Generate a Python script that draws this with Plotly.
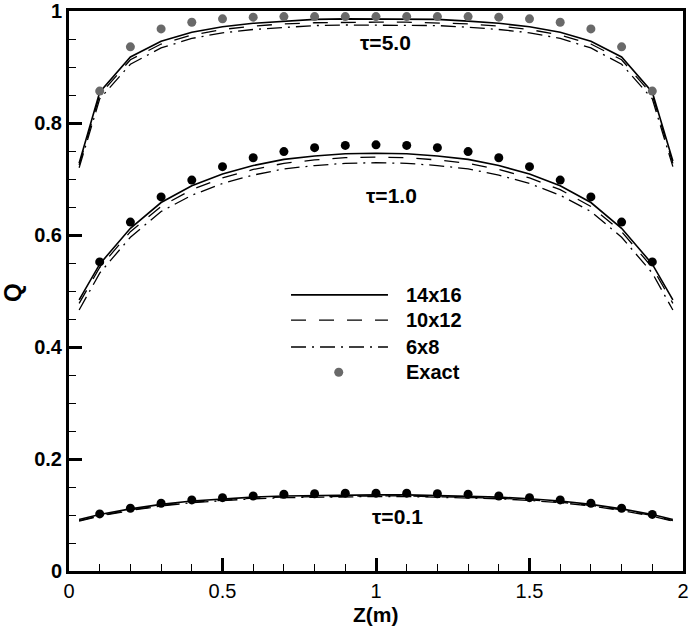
import plotly.graph_objects as go

# ---------------- data ----------------
z_line = [0.033, 0.1, 0.2, 0.3, 0.4, 0.5, 0.6, 0.7, 0.8, 0.9, 1.0,
          1.1, 1.2, 1.3, 1.4, 1.5, 1.6, 1.7, 1.8, 1.9, 1.967]

# tau = 5.0
t5_14x16 = [0.728, 0.855, 0.918, 0.946, 0.962, 0.972, 0.978, 0.982, 0.985, 0.986, 0.986,
            0.986, 0.985, 0.982, 0.978, 0.972, 0.962, 0.946, 0.918, 0.855, 0.732]
t5_10x12 = [0.725, 0.850, 0.913, 0.941, 0.957, 0.967, 0.973, 0.977, 0.979, 0.980, 0.980,
            0.980, 0.979, 0.977, 0.973, 0.967, 0.957, 0.941, 0.913, 0.850, 0.728]
t5_6x8 = [0.720, 0.843, 0.905, 0.934, 0.951, 0.961, 0.967, 0.971, 0.974, 0.975, 0.975,
          0.975, 0.974, 0.971, 0.967, 0.961, 0.951, 0.934, 0.905, 0.843, 0.722]

# tau = 1.0
t1_14x16 = [0.484, 0.548, 0.612, 0.658, 0.688, 0.709, 0.724, 0.735, 0.741, 0.745, 0.746,
            0.745, 0.741, 0.735, 0.724, 0.709, 0.688, 0.658, 0.612, 0.548, 0.484]
t1_10x12 = [0.478, 0.542, 0.606, 0.651, 0.681, 0.702, 0.717, 0.728, 0.734, 0.738, 0.739,
            0.738, 0.734, 0.728, 0.717, 0.702, 0.681, 0.651, 0.606, 0.542, 0.478]
t1_6x8 = [0.466, 0.532, 0.596, 0.642, 0.671, 0.692, 0.707, 0.718, 0.724, 0.728, 0.729,
          0.728, 0.724, 0.718, 0.707, 0.692, 0.671, 0.642, 0.596, 0.532, 0.466]

# tau = 0.1
t01_14x16 = [0.092, 0.101, 0.111, 0.119, 0.125, 0.129, 0.132, 0.134, 0.135, 0.136, 0.136,
             0.136, 0.135, 0.134, 0.132, 0.129, 0.125, 0.119, 0.111, 0.101, 0.092]
t01_10x12 = [0.090, 0.099, 0.109, 0.117, 0.123, 0.127, 0.130, 0.132, 0.133, 0.134, 0.134,
             0.134, 0.133, 0.132, 0.130, 0.127, 0.123, 0.117, 0.109, 0.099, 0.090]
t01_6x8 = [0.089, 0.098, 0.108, 0.116, 0.122, 0.126, 0.129, 0.131, 0.132, 0.133, 0.133,
           0.133, 0.132, 0.131, 0.129, 0.126, 0.122, 0.116, 0.108, 0.098, 0.089]

# exact solution
z_exact = [0.1, 0.2, 0.3, 0.4, 0.5, 0.6, 0.7, 0.8, 0.9, 1.0,
           1.1, 1.2, 1.3, 1.4, 1.5, 1.6, 1.7, 1.8, 1.9]
t5_exact = [0.857, 0.936, 0.968, 0.980, 0.986, 0.989, 0.990, 0.990, 0.990, 0.990,
            0.990, 0.990, 0.990, 0.989, 0.986, 0.980, 0.968, 0.936, 0.857]
t1_exact = [0.552, 0.623, 0.668, 0.698, 0.722, 0.738, 0.749, 0.756, 0.760, 0.761,
            0.760, 0.756, 0.749, 0.738, 0.722, 0.698, 0.668, 0.623, 0.552]
t01_exact = [0.102, 0.112, 0.121, 0.127, 0.131, 0.134, 0.137, 0.138, 0.139, 0.139,
             0.139, 0.138, 0.137, 0.134, 0.131, 0.127, 0.121, 0.112, 0.101]

series_names = ["14x16", "10x12", "6x8", "Exact"]
tau_labels = ["τ=5.0", "τ=1.0", "τ=0.1"]
tau_label_pos = [(1.03, 0.943), (1.05, 0.671), (1.07, 0.097)]

x_ticks = [0, 0.5, 1, 1.5, 2]
x_ticktext = ["0", "0.5", "1", "1.5", "2"]
y_ticks = [0, 0.2, 0.4, 0.6, 0.8, 1]
y_ticktext = ["0", "0.2", "0.4", "0.6", "0.8", "1"]
x_title = "Z(m)"
y_title = "Q"

# ---------------- style ----------------
FONT = "Liberation Sans, Arial, Helvetica, sans-serif"
DASH = "15px,13px"
DASHDOT = "15px,6px,2px,6px"
GRAY = "rgb(105,105,105)"
FS = 20

fig = go.Figure()

line_sets = [
    (t5_14x16, t5_10x12, t5_6x8),
    (t1_14x16, t1_10x12, t1_6x8),
    (t01_14x16, t01_10x12, t01_6x8),
]
for a, b, c in line_sets:
    fig.add_trace(go.Scatter(x=z_line, y=a, mode="lines", showlegend=False,
                             line=dict(color="black", width=1.6)))
    fig.add_trace(go.Scatter(x=z_line, y=b, mode="lines", showlegend=False,
                             line=dict(color="black", width=1.3, dash=DASH)))
    fig.add_trace(go.Scatter(x=z_line, y=c, mode="lines", showlegend=False,
                             line=dict(color="black", width=1.3, dash=DASHDOT)))

for ys, col in [(t5_exact, GRAY), (t1_exact, "black"), (t01_exact, "black")]:
    fig.add_trace(go.Scatter(x=z_exact, y=ys, mode="markers", showlegend=False,
                             marker=dict(color=col, size=9, line=dict(width=0))))

# tau labels
for txt, (xx, yy) in zip(tau_labels, tau_label_pos):
    fig.add_annotation(x=xx, y=yy, text=txt, showarrow=False,
                       font=dict(family=FONT, size=21, color="black", weight="bold"))

# manual legend (paper coordinates)
leg_x0, leg_x1, leg_tx = 0.3616, 0.5195, 0.545
leg_y = [0.493, 0.448, 0.400, 0.355]
leg_styles = [dict(color="black", width=1.6),
              dict(color="black", width=1.3, dash=DASH),
              dict(color="black", width=1.3, dash=DASHDOT)]
for i in range(3):
    fig.add_shape(type="line", xref="paper", yref="paper",
                  x0=leg_x0, x1=leg_x1, y0=leg_y[i], y1=leg_y[i], line=leg_styles[i])
fig.add_shape(type="circle", xref="paper", yref="paper",
              xsizemode="pixel", ysizemode="pixel",
              xanchor=0.4393, yanchor=leg_y[3],
              x0=-4.5, x1=4.5, y0=-4.5, y1=4.5,
              fillcolor=GRAY, line=dict(width=0))
for i, name in enumerate(series_names):
    fig.add_annotation(x=leg_tx, y=leg_y[i], xref="paper", yref="paper",
                       text=name, showarrow=False, xanchor="left", yanchor="middle",
                       font=dict(family=FONT, size=20, color="black", weight="bold"))

# axis titles as annotations for exact placement
fig.add_annotation(x=0.5, y=-0.0785, xref="paper", yref="paper", text=x_title,
                   showarrow=False, xanchor="center", yanchor="middle",
                   font=dict(family=FONT, size=21, color="black", weight="bold"))
fig.add_annotation(x=-0.093, y=0.498, xref="paper", yref="paper", text=y_title,
                   showarrow=False, xanchor="center", yanchor="middle", textangle=-90,
                   font=dict(family=FONT, size=24, color="black", weight="bold"))

axis_common = dict(showgrid=False, zeroline=False, showline=True, linecolor="black",
                   linewidth=3, mirror=True, ticks="inside", ticklen=13, tickwidth=2.5,
                   tickcolor="black", ticklabeloverflow="allow", automargin=False)

fig.update_xaxes(range=[0, 2], tickvals=x_ticks, ticktext=x_ticktext,
                 tickfont=dict(family=FONT, size=FS, color="black"),
                 minor=dict(dtick=0.1, tick0=0, ticks="inside", ticklen=7, tickwidth=1,
                            tickcolor="black"),
                 **axis_common)
fig.update_yaxes(range=[0, 1], tickvals=y_ticks, ticktext=y_ticktext,
                 tickfont=dict(family=FONT, size=FS, color="black", weight="bold"),
                 minor=dict(dtick=0.05, tick0=0, ticks="inside", ticklen=7, tickwidth=1,
                            tickcolor="black"),
                 **axis_common)

fig.update_layout(width=690, height=629, autosize=False,
                  margin=dict(l=69, r=7, t=11, b=58, pad=0),
                  paper_bgcolor="white", plot_bgcolor="white",
                  font=dict(family=FONT, color="black"))

fig.write_html("out.html")
